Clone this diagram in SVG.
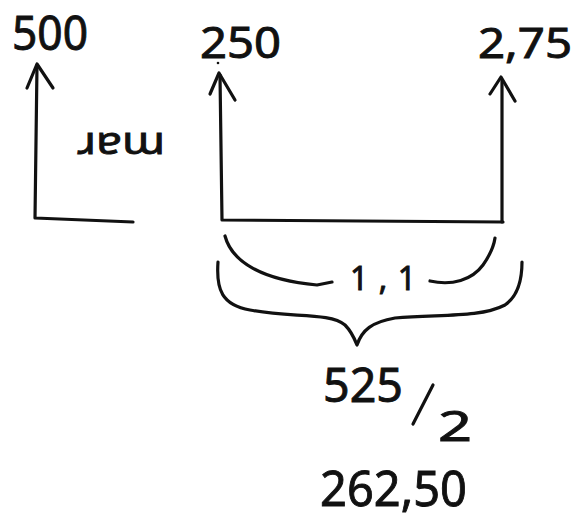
<svg xmlns="http://www.w3.org/2000/svg" width="576" height="521" viewBox="0 0 576 521">
<style>
.t{font-family:"Noto Sans","DejaVu Sans",sans-serif;fill:#111;stroke:#111;stroke-width:0.9;}
.s{fill:none;stroke:#111;stroke-width:3.2;stroke-linecap:round;stroke-linejoin:round;}
</style>
<rect width="576" height="521" fill="#fff"/>
<g id="connectors">
<g id="arrow-500">
<path class="s" d="M37,65 L35,218 L133,222"/>
<path class="s" d="M27,88 L37,64 L53,88"/>
</g>
<g id="arrow-250">
<path class="s" d="M220,75 L222,220 L503,222"/>
<path class="s" d="M210,94 L219,73 L235,100"/>
<circle cx="218" cy="63" r="1.3" fill="#111"/>
</g>
<g id="arrow-275">
<path class="s" d="M502,222 L502,80"/>
<path class="s" d="M490,94 L501,77 L515,101"/>
</g>
<g id="brace-inner">
<path class="s" d="M225,236 C232,262 262,280 317,285 L332,282"/>
<path class="s" d="M430,281 C452,286 472,280 483,265 C490,255 494,245 495,238"/>
</g>
<g id="brace-outer">
<path class="s" d="M218,262 C216,290 222,305 250,310 C290,318 330,312 345,325 C352,332 355,340 357,345 C362,330 372,322 395,318 C440,314 480,318 505,305 C518,296 522,280 522,262"/>
</g>
</g>
<g id="label-500"><text class="t" x="12" y="50" font-size="48" textLength="76" lengthAdjust="spacingAndGlyphs">500</text></g>
<g id="label-250"><text class="t" x="200" y="58" font-size="43" textLength="81" lengthAdjust="spacingAndGlyphs">250</text></g>
<g id="label-275"><text class="t" x="478" y="58" font-size="42" textLength="94" lengthAdjust="spacingAndGlyphs">2,75</text></g>
<g id="label-mar"><text class="t" x="77" y="154" font-size="38" textLength="88" lengthAdjust="spacingAndGlyphs">ɹɐɯ</text></g>
<g id="label-11"><text class="t" x="350" y="290" font-size="32" textLength="66" lengthAdjust="spacing">1,1</text></g>
<g id="label-525"><text class="t" x="323" y="402" font-size="48" textLength="80" lengthAdjust="spacingAndGlyphs">525</text>
<path class="s" d="M433,385 L413,424"/>
<text class="t" x="438" y="441" font-size="42" textLength="34" lengthAdjust="spacingAndGlyphs">2</text></g>
<g id="label-26250"><text class="t" x="320" y="506" font-size="50" textLength="147" lengthAdjust="spacingAndGlyphs">262,50</text></g>
</svg>
